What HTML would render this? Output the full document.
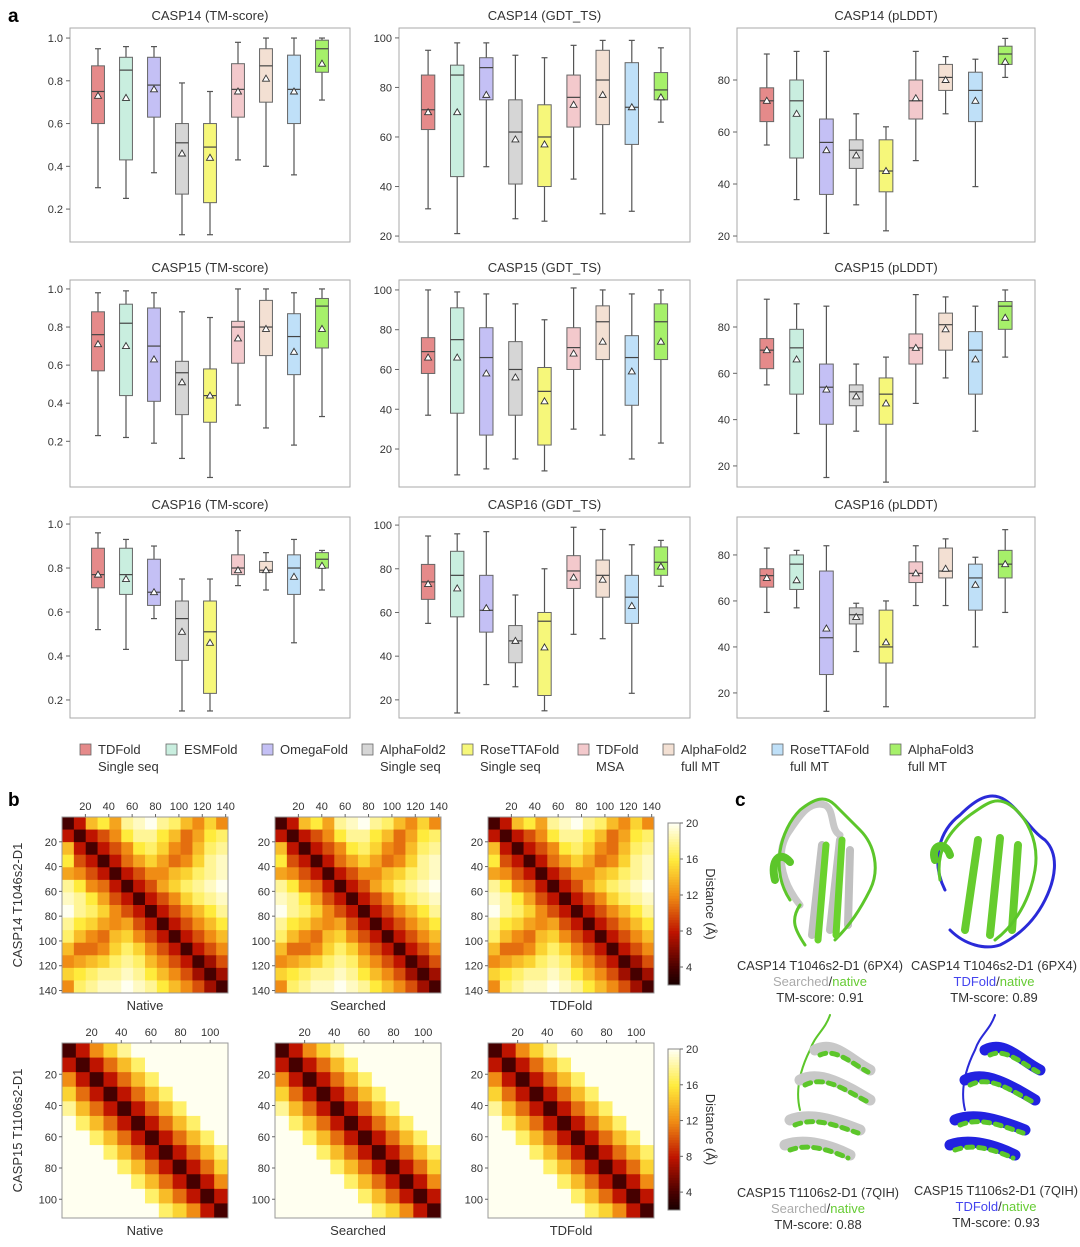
<!DOCTYPE html>
<html><head><meta charset="utf-8"><style>
html,body{margin:0;padding:0;background:#fff;}
svg text{font-family:"Liberation Sans",sans-serif;fill:#333;}
</style></head><body>
<svg id="fig" width="1080" height="1242" viewBox="0 0 1080 1242" xmlns="http://www.w3.org/2000/svg">
<text x="8" y="22" font-size="19" font-weight="bold" style="fill:#000">a</text>
<text x="8" y="806" font-size="19" font-weight="bold" style="fill:#000">b</text>
<text x="735" y="806" font-size="19" font-weight="bold" style="fill:#000">c</text>
<g id="boxplots"></g>
<g id="legend"></g>
<g id="heatmaps"></g>
<g id="structures">
 <g fill="none" stroke-linecap="round">
  <path d="M800 905 C780 880 775 850 790 830 C800 815 810 800 825 805 C835 810 830 830 840 835" stroke="#c8c8c8" stroke-width="7"/>
  <path d="M812 935 L822 845 M830 930 L840 840 M848 925 L850 850" stroke="#c0c0c0" stroke-width="8"/>
  <path d="M790 900 C770 870 780 830 800 810 C815 798 825 795 835 805 C845 815 850 820 860 830 C875 845 880 870 870 890 C860 910 850 925 835 940 M805 945 C795 930 790 920 800 905" stroke="#5cc62a" stroke-width="3"/>
  <path d="M818 940 L826 845 M836 935 L842 840" stroke="#6ad22e" stroke-width="7"/>
  <path d="M775 880 C770 860 780 850 790 862" stroke="#5cc62a" stroke-width="8"/>
 </g>
 <g fill="none" stroke-linecap="round">
  <path d="M945 890 C930 860 940 830 960 815 C975 800 990 790 1005 800 C1020 810 1030 830 1045 840 C1060 855 1055 880 1045 900 C1035 920 1020 935 1000 945 C985 950 965 945 950 930" stroke="#2a2ad8" stroke-width="3"/>
  <path d="M965 930 L978 840 M990 935 L1000 838 M1012 930 L1018 845" stroke="#66cc2e" stroke-width="8"/>
  <path d="M940 880 C935 850 950 830 970 815 C985 805 995 795 1010 805 C1025 815 1040 840 1035 870 C1030 900 1015 925 995 940" stroke="#5cc62a" stroke-width="3"/>
  <path d="M935 860 C930 845 945 840 950 855" stroke="#5cc62a" stroke-width="8"/>
 </g>
 <g fill="none" stroke-linecap="round">
  <path d="M830 1015 C825 1030 815 1035 810 1050 C800 1070 795 1090 800 1110" stroke="#5cc62a" stroke-width="2"/>
  <path d="M815 1050 C835 1040 850 1060 870 1070 M800 1080 C820 1070 845 1085 870 1100 M790 1120 C810 1112 835 1120 860 1130 M785 1145 C805 1138 830 1145 850 1155" stroke="#c8c8c8" stroke-width="11"/>
  <path d="M820 1055 C835 1048 850 1062 868 1072 M805 1085 C825 1075 845 1090 868 1102 M795 1125 C815 1117 835 1125 858 1133 M790 1150 C808 1143 830 1150 848 1158" stroke="#5cc62a" stroke-width="5" stroke-dasharray="6 6"/>
 </g>
 <g fill="none" stroke-linecap="round">
  <path d="M995 1015 C990 1030 980 1035 975 1050 C965 1070 960 1090 965 1110" stroke="#2a2ad8" stroke-width="2"/>
  <path d="M985 1050 C1005 1040 1020 1060 1040 1070 M965 1080 C985 1070 1010 1085 1035 1100 M955 1120 C975 1112 1000 1120 1025 1130 M950 1145 C970 1138 995 1145 1015 1155" stroke="#2222e0" stroke-width="11"/>
  <path d="M990 1055 C1005 1048 1020 1062 1038 1072 M970 1085 C990 1075 1010 1090 1033 1102 M960 1125 C980 1117 1000 1125 1023 1133 M955 1150 C973 1143 995 1150 1013 1158" stroke="#5cc62a" stroke-width="5" stroke-dasharray="6 6"/>
 </g>
 <g font-size="13" text-anchor="middle">
  <text x="820" y="970" textLength="166" lengthAdjust="spacingAndGlyphs">CASP14 T1046s2-D1 (6PX4)</text>
  <text x="820" y="986"><tspan style="fill:#aaa">Searched</tspan>/<tspan style="fill:#66cc33">native</tspan></text>
  <text x="820" y="1002">TM-score: 0.91</text>
  <text x="994" y="970" textLength="166" lengthAdjust="spacingAndGlyphs">CASP14 T1046s2-D1 (6PX4)</text>
  <text x="994" y="986"><tspan style="fill:#4444ee">TDFold</tspan>/<tspan style="fill:#66cc33">native</tspan></text>
  <text x="994" y="1002">TM-score: 0.89</text>
  <text x="818" y="1197" textLength="162" lengthAdjust="spacingAndGlyphs">CASP15 T1106s2-D1 (7QIH)</text>
  <text x="818" y="1213"><tspan style="fill:#aaa">Searched</tspan>/<tspan style="fill:#66cc33">native</tspan></text>
  <text x="818" y="1229">TM-score: 0.88</text>
  <text x="996" y="1195" textLength="164" lengthAdjust="spacingAndGlyphs">CASP15 T1106s2-D1 (7QIH)</text>
  <text x="996" y="1211"><tspan style="fill:#4444ee">TDFold</tspan>/<tspan style="fill:#66cc33">native</tspan></text>
  <text x="996" y="1227">TM-score: 0.93</text>
 </g>
</g>
</svg>
<script>
const NS="http://www.w3.org/2000/svg";
// ---- box plot data: [whiskerLow, q1, median, q3, whiskerHigh, mean] ----
const methods=["TDFold Single seq","ESMFold","OmegaFold","AlphaFold2 Single seq","RoseTTAFold Single seq","TDFold MSA","AlphaFold2 full MT","RoseTTAFold full MT","AlphaFold3 full MT"];
const methodColors=["#e58a8a","#c9eedf","#c4c0f5","#d6d6d6","#f6f77a","#f3c9cc","#f3e0d3","#bfe0f8","#a6f06a"];
const casp14_tm=[[.30,.60,.75,.87,.95,.73],[.25,.43,.85,.91,.96,.72],[.37,.63,.78,.91,.96,.76],[.08,.27,.51,.60,.79,.46],[.08,.23,.49,.60,.75,.44],[.43,.63,.76,.88,.98,.75],[.40,.70,.87,.95,1.0,.81],[.36,.60,.76,.92,1.0,.75],[.71,.84,.95,.99,1.0,.88]];
const casp14_gdt=[[31,63,71,85,95,70],[21,44,85,89,98,70],[48,75,88,92,98,77],[27,41,62,75,93,59],[26,40,60,73,92,57],[43,64,76,85,97,73],[29,65,83,95,99,77],[30,57,72,90,99,72],[66,75,79,86,96,76]];
const casp14_plddt=[[55,64,72,77,90,72],[34,50,72,80,91,67],[21,36,56,65,91,53],[32,46,53,57,67,51],[22,37,45,57,62,45],[49,65,72,80,91,73],[67,76,81,86,89,80],[39,64,76,83,88,72],[81,86,90,93,96,87]];
const casp15_tm=[[.23,.57,.76,.88,.98,.71],[.22,.44,.82,.92,.99,.70],[.19,.41,.70,.90,.98,.63],[.11,.34,.56,.62,.88,.51],[.01,.30,.44,.58,.85,.44],[.39,.61,.80,.83,1.0,.74],[.27,.65,.80,.94,1.0,.79],[.18,.55,.75,.87,.98,.67],[.33,.69,.91,.95,1.0,.79]];
const casp15_gdt=[[37,58,69,76,100,66],[7,38,75,91,99,66],[10,27,66,81,98,58],[15,37,60,74,93,56],[9,22,49,61,85,44],[30,60,71,81,101,68],[27,65,84,92,100,74],[15,42,66,77,98,59],[23,65,84,93,100,74]];
const casp15_plddt=[[55,62,70,75,92,70],[34,51,71,79,90,66],[15,38,54,64,89,53],[35,46,52,55,64,50],[13,38,51,58,67,47],[47,64,71,77,94,71],[58,70,81,86,93,79],[35,51,70,78,89,66],[67,79,89,91,96,84]];
const casp16_tm=[[.52,.71,.77,.89,.96,.77],[.43,.68,.77,.89,.93,.75],[.57,.63,.69,.84,.90,.69],[.15,.38,.57,.65,.75,.51],[.15,.23,.51,.65,.75,.46],[.72,.77,.80,.86,.97,.79],[.70,.78,.79,.83,.87,.79],[.46,.68,.80,.86,.93,.76],[.70,.80,.84,.87,.88,.81]];
const casp16_gdt=[[55,66,74,82,95,73],[14,58,77,88,96,71],[27,51,61,77,97,62],[26,37,47,54,68,47],[15,22,56,60,80,44],[50,71,79,86,99,76],[48,67,77,84,98,75],[23,55,67,77,91,63],[72,77,83,90,93,81]];
const casp16_plddt=[[55,66,71,74,83,70],[57,65,76,80,82,69],[12,28,44,73,84,48],[38,50,54,57,59,53],[14,33,40,56,60,42],[58,68,72,77,84,72],[58,70,73,83,87,74],[40,56,70,76,79,67],[55,70,76,82,91,76]];
const tmTicks=[0.2,0.4,0.6,0.8,1.0];
const gdtTicks=[20,40,60,80,100];
const plddtTicks=[20,40,60,80];
const plotTitles=["CASP14 (TM-score)","CASP14 (GDT_TS)","CASP14 (pLDDT)","CASP15 (TM-score)","CASP15 (GDT_TS)","CASP15 (pLDDT)","CASP16 (TM-score)","CASP16 (GDT_TS)","CASP16 (pLDDT)"];
// ---- heatmap data (coarse distance maps, Å) ----
const casp14_map=[
[4,8,14,16,13,18,19,20,18,17,14,12,15,12],
[8,4,8,10,12,16,18,18,16,14,11,13,16,17],
[14,8,4,8,10,12,16,17,15,12,11,14,17,18],
[16,10,8,4,8,11,13,15,13,11,12,15,18,19],
[13,12,10,8,4,8,10,12,12,14,15,17,18,19],
[18,16,12,11,8,4,8,10,13,15,17,18,19,20],
[19,18,16,13,10,8,4,8,10,12,15,17,18,19],
[20,18,17,15,12,10,8,4,8,10,12,14,16,18],
[18,16,15,13,12,13,10,8,4,8,10,12,14,16],
[17,14,12,11,14,15,12,10,8,4,8,10,12,14],
[14,11,11,12,15,17,15,12,10,8,4,8,10,12],
[12,13,14,15,17,18,17,14,12,10,8,4,7,10],
[15,16,17,18,18,19,18,16,14,12,10,7,4,7],
[12,17,18,19,19,20,19,18,16,14,12,10,7,4]];
const casp15_map=[
[4,8,12,15,18,20,20,20,20,20,20,20],
[8,4,8,11,14,17,20,20,20,20,20,20],
[12,8,4,8,11,14,17,20,20,20,20,20],
[15,11,8,4,8,11,14,17,20,20,20,20],
[18,14,11,8,4,8,11,14,17,20,20,20],
[20,17,14,11,8,4,8,11,14,17,20,20],
[20,20,17,14,11,8,4,8,11,14,17,20],
[20,20,20,17,14,11,8,4,8,11,14,17],
[20,20,20,20,17,14,11,8,4,8,11,15],
[20,20,20,20,20,17,14,11,8,4,8,12],
[20,20,20,20,20,20,17,14,11,8,4,8],
[20,20,20,20,20,20,20,17,15,12,8,4]];
const axis14=[20,40,60,80,100,120,140];
const axis15=[20,40,60,80,100];
const cbTicks=[4,8,12,16,20];

function el(tag,attrs,parent){const e=document.createElementNS(NS,tag);for(const k in attrs)e.setAttribute(k,attrs[k]);parent.appendChild(e);return e;}
function txt(s,attrs,parent){const t=el("text",attrs,parent);t.textContent=s;return t;}

// ---- box plots ----
const colsX=[[70,350],[399,690],[737,1035]];
const rowsY=[[28,242],[280,487],[517,718]];
const domains=[[[0.046,1.047],[17.6,104],[17.7,100]],[[-0.04,1.047],[0.9,105],[10.9,100.3]],[[0.118,1.032],[11.7,103.7],[9.1,96.5]]];
const allData=[[casp14_tm,casp14_gdt,casp14_plddt],[casp15_tm,casp15_gdt,casp15_plddt],[casp16_tm,casp16_gdt,casp16_plddt]];
const allTicks=[tmTicks,gdtTicks,plddtTicks];
const bp=document.getElementById("boxplots");
for(let r=0;r<3;r++)for(let c=0;c<3;c++){
  const [x0,x1]=colsX[c],[y0,y1]=rowsY[r],[dmin,dmax]=domains[r][c];
  const yS=v=>y1-(v-dmin)/(dmax-dmin)*(y1-y0);
  const xS=i=>x0+(i+1)*(x1-x0)/10;
  const g=el("g",{},bp);
  
  
  const t=txt(plotTitles[r*3+c],{x:(x0+x1)/2,y:y0-8,"font-size":13,"text-anchor":"middle"},g);
  
  
  const fr=el("rect",{x:x0,y:y0,width:x1-x0,height:y1-y0,fill:"none",stroke:"#aaa","stroke-width":1},g);
  
  
  allTicks[c].forEach(v=>{
    if(v<dmin||v>dmax)return;
    const y=yS(v);
    el("line",{x1:x0-4,x2:x0,y1:y,y2:y,stroke:"#666"},g);
    const lb=txt(c===0?v.toFixed(1):String(v),{x:x0-7,y:y+4,"font-size":11,"text-anchor":"end"},g);
    
    
  });
  const bw=(x1-x0)/10*0.46;
  allData[r][c].forEach((d,i)=>{
    const cx=xS(i);
    const bg=el("g",{},g);
    
    
    el("line",{x1:cx,x2:cx,y1:yS(d[0]),y2:yS(d[4]),stroke:"#555","stroke-width":1.2},bg);
    el("line",{x1:cx-3,x2:cx+3,y1:yS(d[0]),y2:yS(d[0]),stroke:"#555","stroke-width":1.2},bg);
    el("line",{x1:cx-3,x2:cx+3,y1:yS(d[4]),y2:yS(d[4]),stroke:"#555","stroke-width":1.2},bg);
    el("rect",{x:cx-bw/2,y:yS(d[3]),width:bw,height:Math.max(1,yS(d[1])-yS(d[3])),fill:methodColors[i],stroke:"#666","stroke-width":1},bg);
    el("line",{x1:cx-bw/2,x2:cx+bw/2,y1:yS(d[2]),y2:yS(d[2]),stroke:"#444","stroke-width":1.2},bg);
    const my=yS(d[5]);
    el("path",{d:`M${cx} ${my-3.5} L${cx+3.5} ${my+2.5} L${cx-3.5} ${my+2.5} Z`,fill:"#fff",stroke:"#333","stroke-width":0.9},bg);
  });
}
// ---- legend ----
const lg=document.getElementById("legend");


const legX=[80,166,262,362,462,578,663,772,890];
methods.forEach((m,i)=>{
  const g=el("g",{},lg);
  
  
  el("rect",{x:legX[i],y:744,width:11,height:11,fill:methodColors[i],stroke:"#666","stroke-width":0.8},g);
  let parts;
  if(m.endsWith("Single seq"))parts=[m.replace(" Single seq",""),"Single seq"];
  else if(m.endsWith("full MT"))parts=[m.replace(" full MT",""),"full MT"];
  else if(m==="TDFold MSA")parts=["TDFold","MSA"];
  else parts=[m];
  parts.forEach((p,k)=>txt(p,{x:legX[i]+18,y:754+k*17,"font-size":13},g));
});
// ---- heatmaps ----
const stops=[[2,[20,0,0]],[4,[70,0,0]],[8,[190,20,0]],[12,[240,140,20]],[16,[255,235,60]],[20,[255,255,240]]];
function cmap(v){
  if(v<=stops[0][0])return `rgb(${stops[0][1]})`;
  for(let k=1;k<stops.length;k++){if(v<=stops[k][0]){const a=stops[k-1],b=stops[k],t=(v-a[0])/(b[0]-a[0]);return `rgb(${a[1].map((q,j)=>Math.round(q+(b[1][j]-q)*t)).join(",")})`;}}
  return `rgb(${stops[stops.length-1][1]})`;
}
const hm=document.getElementById("heatmaps");
const hmRows=[{mat:casp14_map,n:142,ticks:axis14,y0:817,y1:993,label:"CASP14 T1046s2-D1"},{mat:casp15_map,n:112,ticks:axis15,y0:1043,y1:1218,label:"CASP15 T1106s2-D1"}];
const hmCols=[[62,228,"Native"],[275,441,"Searched"],[488,654,"TDFold"]];
hmRows.forEach((R,ri)=>{
  const yl=txt(R.label,{x:0,y:0,"font-size":13,"text-anchor":"middle",transform:`translate(22,${(R.y0+R.y1)/2}) rotate(-90)`},hm);
  
  
  hmCols.forEach(([x0,x1,name])=>{
    const g=el("g",{},hm);
    
    
    const m=R.mat,k=m.length,cw=(x1-x0)/k,ch=(R.y1-R.y0)/k;
    m.forEach((row,i)=>row.forEach((v,j)=>{
      const c=el("rect",{x:x0+j*cw,y:R.y0+i*ch,width:cw+0.4,height:ch+0.4,fill:cmap(v)},g);
      
      
    }));
    el("rect",{x:x0,y:R.y0,width:x1-x0,height:R.y1-R.y0,fill:"none",stroke:"#999"},g);
    R.ticks.forEach(t=>{
      const xx=x0+t/R.n*(x1-x0),yy=R.y0+t/R.n*(R.y1-R.y0);
      el("line",{x1:xx,x2:xx,y1:R.y0-3,y2:R.y0,stroke:"#666"},g);
      txt(String(t),{x:xx,y:R.y0-7,"font-size":11,"text-anchor":"middle"},g);
      el("line",{x1:x0-3,x2:x0,y1:yy,y2:yy,stroke:"#666"},g);
      txt(String(t),{x:x0-5,y:yy+4,"font-size":11,"text-anchor":"end"},g);
    });
    const nl=txt(name,{x:(x0+x1)/2,y:R.y1+17,"font-size":13,"text-anchor":"middle"},g);
    
    
  });
  // colorbar
  const cb=el("g",{},hm);
  
  
  const cy0=R.y0+6,cy1=R.y1-8,cx=668;
  for(let s=0;s<60;s++){const v=20-(s/60)*18;el("rect",{x:cx,y:cy0+s*(cy1-cy0)/60,width:12,height:(cy1-cy0)/60+0.5,fill:cmap(v)},cb);}
  el("rect",{x:cx,y:cy0,width:12,height:cy1-cy0,fill:"none",stroke:"#888"},cb);
  cbTicks.forEach(t=>{const yy=cy1-(t-2)/18*(cy1-cy0);el("line",{x1:cx+12,x2:cx+15,y1:yy,y2:yy,stroke:"#666"},cb);txt(String(t),{x:cx+18,y:yy+4,"font-size":11},cb);});
  txt("Distance (Å)",{x:0,y:0,"font-size":13,"text-anchor":"middle",transform:`translate(706,${(cy0+cy1)/2}) rotate(90)`},cb);
});
</script>
</body></html>
